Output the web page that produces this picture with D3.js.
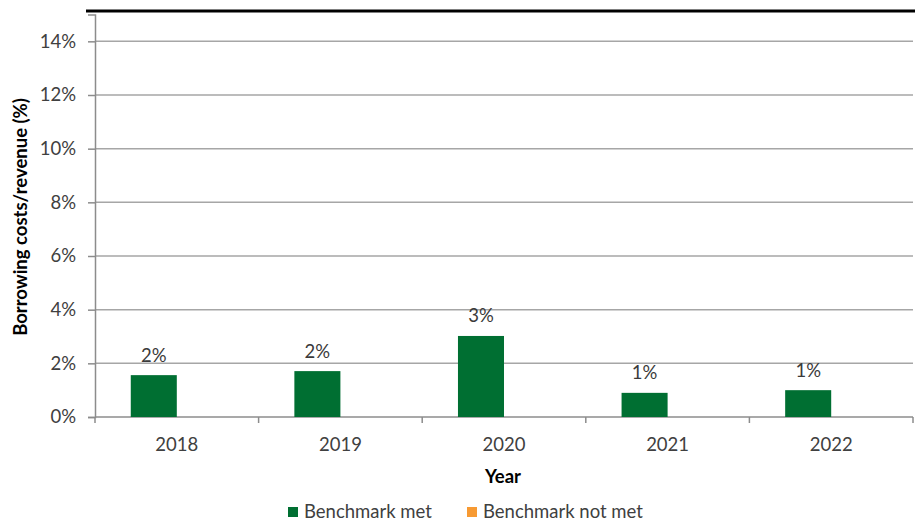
<!DOCTYPE html>
<html>
<head>
<meta charset="utf-8">
<script src="https://cdn.jsdelivr.net/npm/d3@7"></script>
<style>
  html, body { margin: 0; padding: 0; background: #fff; }
  svg { display: block; }
  text { font-family: Lato, "Open Sans", sans-serif; }
</style>
</head>
<body>
<svg id="chart" width="915" height="523"></svg>
<script>
// Borrowing costs as a share of revenue, by year
const years = ["2018", "2019", "2020", "2021", "2022"];
const seriesNames = ["Benchmark met", "Benchmark not met"];
const benchmarkMet = [0.0156, 0.0171, 0.0302, 0.0090, 0.0100];
const benchmarkNotMet = [null, null, null, null, null];
const yTicks = [0, 0.02, 0.04, 0.06, 0.08, 0.10, 0.12, 0.14];
const colors = ["#006f32", "#f79a33"];

const svg = d3.select("#chart");
const margin = { top: 14.5, right: 2, bottom: 106, left: 95 };
const W = 915, H = 523;
const plotW = W - margin.left - margin.right;
const plotH = H - margin.top - margin.bottom;
const fontSize = "18.5px";

const g = svg.append("g").attr("transform", `translate(${margin.left},${margin.top})`);

const y = d3.scaleLinear().domain([0, 0.15]).range([plotH, 0]);
const x0 = d3.scaleBand().domain(years).range([0, plotW]);
const x1 = d3.scaleBand().domain(seriesNames).range([0, x0.bandwidth()]).paddingOuter(0.777);

// Top frame rule
svg.append("line")
  .attr("x1", 86).attr("x2", W).attr("y1", 11).attr("y2", 11)
  .attr("stroke", "#000").attr("stroke-width", 3.2);

// Horizontal gridlines
g.append("g").selectAll("line")
  .data(yTicks.slice(1))
  .join("line")
  .attr("x1", 0).attr("x2", plotW)
  .attr("y1", d => y(d)).attr("y2", d => y(d))
  .attr("stroke", "#a6a6a6").attr("stroke-width", 1.5);

// Y axis
const yAxis = g.append("g")
  .call(d3.axisLeft(y).tickValues(yTicks).tickFormat(d3.format(".0%")).tickSize(7).tickPadding(12));
yAxis.select(".domain").attr("stroke", "#8c8c8c").attr("stroke-width", 1.5);
yAxis.selectAll(".tick line").attr("stroke", "#8c8c8c").attr("stroke-width", 1.5);
yAxis.selectAll(".tick text").attr("fill", "#404040").style("font-size", fontSize);

// X axis with ticks at category boundaries
const xAxisG = g.append("g").attr("transform", `translate(0,${plotH})`);
xAxisG.append("line")
  .attr("x1", 0).attr("x2", plotW)
  .attr("stroke", "#8c8c8c").attr("stroke-width", 1.5);
xAxisG.selectAll("line.tk")
  .data(years.concat(["end"]))
  .join("line").attr("class", "tk")
  .attr("x1", (d, i) => i * x0.step()).attr("x2", (d, i) => i * x0.step())
  .attr("y1", 0).attr("y2", 6)
  .attr("stroke", "#8c8c8c").attr("stroke-width", 1.5);
xAxisG.selectAll("text")
  .data(years)
  .join("text")
  .attr("x", d => x0(d) + x0.bandwidth() / 2)
  .attr("y", 34)
  .attr("text-anchor", "middle")
  .attr("fill", "#404040")
  .style("font-size", fontSize)
  .text(d => d);

// Bars
const rows = years.map((yr, i) => ({ year: yr, values: [benchmarkMet[i], benchmarkNotMet[i]] }));
const groups = g.append("g").selectAll("g")
  .data(rows)
  .join("g")
  .attr("transform", d => `translate(${x0(d.year)},0)`);

groups.selectAll("rect")
  .data(d => d.values.map((v, k) => ({ key: seriesNames[k], value: v, k })).filter(e => e.value != null))
  .join("rect")
  .attr("x", d => x1(d.key))
  .attr("width", x1.bandwidth())
  .attr("y", d => y(d.value))
  .attr("height", d => y(0) - y(d.value))
  .attr("fill", d => colors[d.k]);

groups.selectAll("text")
  .data(d => d.values.map((v, k) => ({ key: seriesNames[k], value: v })).filter(e => e.value != null))
  .join("text")
  .attr("x", d => x1(d.key) + x1.bandwidth() / 2)
  .attr("y", d => y(d.value) - 13.5)
  .attr("text-anchor", "middle")
  .attr("fill", "#3a3a3a")
  .style("font-size", fontSize)
  .text(d => d3.format(".0%")(d.value));

// Axis titles
svg.append("text")
  .attr("transform", `translate(27,217) rotate(-90)`)
  .attr("text-anchor", "middle")
  .attr("font-weight", "bold")
  .attr("fill", "#000")
  .style("font-size", "18.5px")
  .text("Borrowing costs/revenue (%)");

svg.append("text")
  .attr("x", 503)
  .attr("y", 483)
  .attr("text-anchor", "middle")
  .attr("font-weight", "bold")
  .attr("fill", "#000")
  .style("font-size", "18.5px")
  .text("Year");

// Legend
const legendX = [288, 467];
const legend = svg.append("g").selectAll("g")
  .data(seriesNames)
  .join("g")
  .attr("transform", (d, i) => `translate(${legendX[i]},507)`);
legend.append("rect")
  .attr("width", 10).attr("height", 10)
  .attr("fill", (d, i) => colors[i]);
legend.append("text")
  .attr("x", 16).attr("y", 10.5)
  .attr("fill", "#404040")
  .style("font-size", fontSize)
  .text(d => d);
</script>
</body>
</html>
